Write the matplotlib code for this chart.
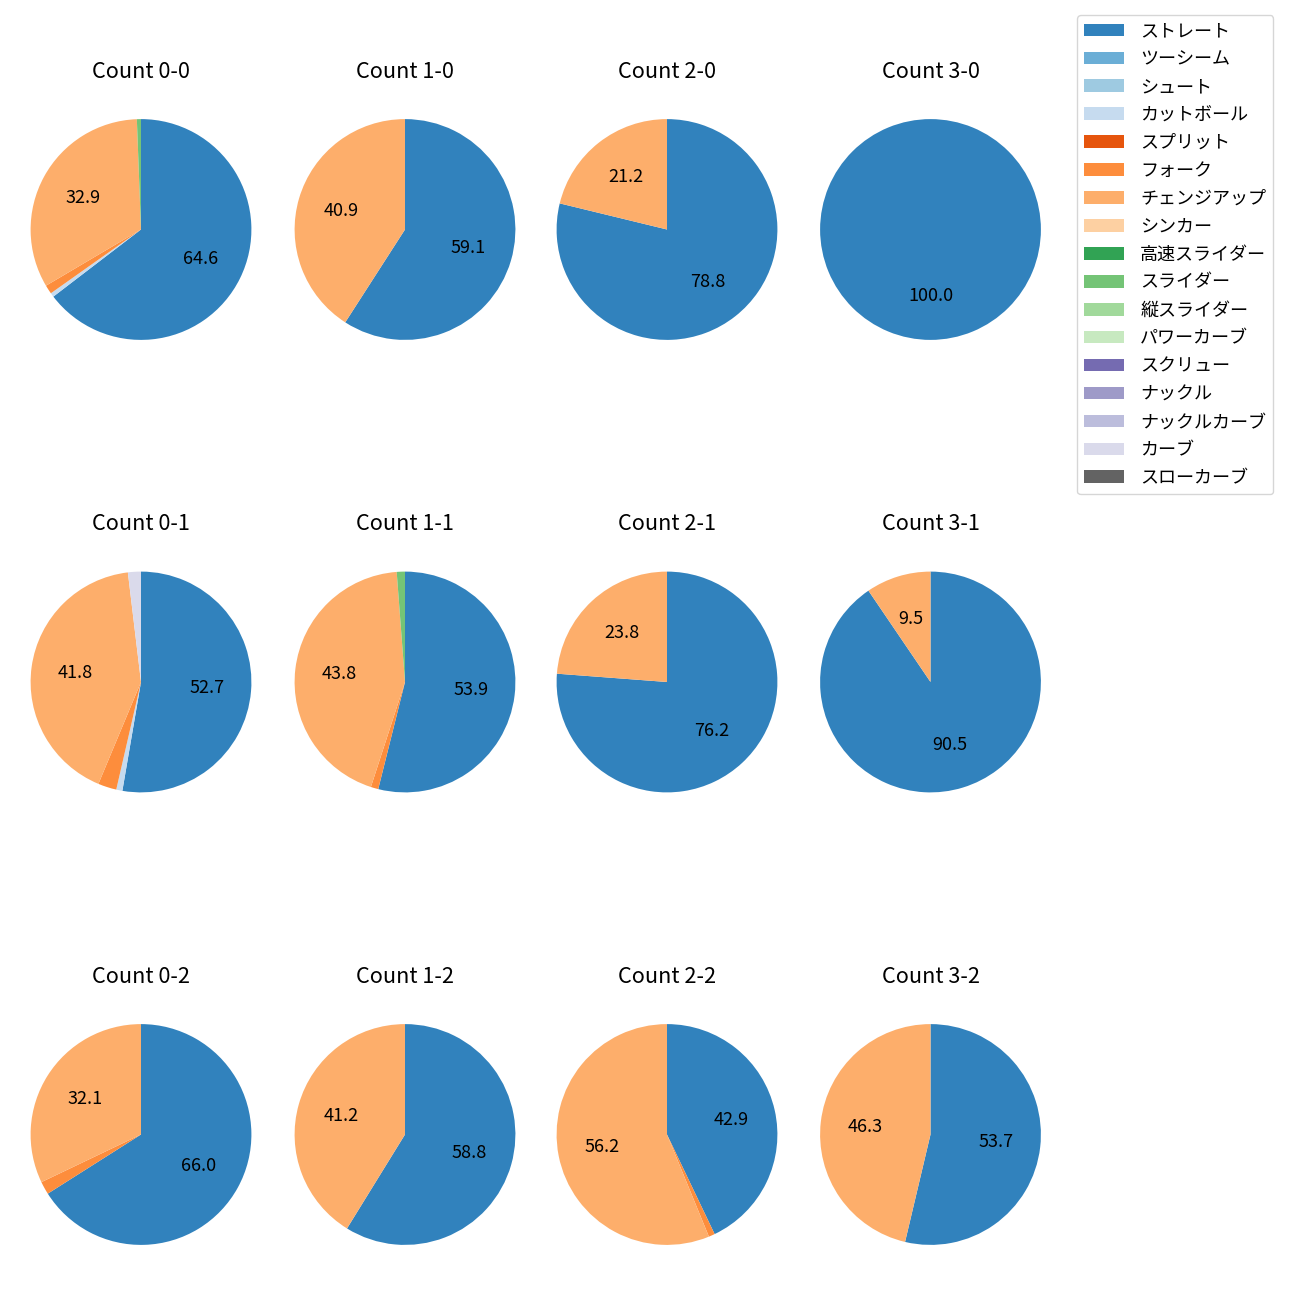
import numpy as np
import matplotlib
matplotlib.use("Agg")
import matplotlib.pyplot as plt
from matplotlib.patches import Patch

plt.rcParams['font.family'] = ['Noto Sans CJK JP', 'DejaVu Sans']
plt.rcParams['font.size'] = 13

# 球種 (tab20c の順)
pitch_types = ["ストレート", "ツーシーム", "シュート", "カットボール", "スプリット",
               "フォーク", "チェンジアップ", "シンカー", "高速スライダー", "スライダー",
               "縦スライダー", "パワーカーブ", "スクリュー", "ナックル", "ナックルカーブ",
               "カーブ", "スローカーブ"]

# 各カウントの割合 (%), pitch_types と同じ順
count_0_0 = [64.6, 0, 0, 0.6, 0, 1.3, 32.9, 0, 0, 0.6, 0, 0, 0, 0, 0, 0, 0]
count_1_0 = [59.1, 0, 0, 0, 0, 0, 40.9, 0, 0, 0, 0, 0, 0, 0, 0, 0, 0]
count_2_0 = [78.8, 0, 0, 0, 0, 0, 21.2, 0, 0, 0, 0, 0, 0, 0, 0, 0, 0]
count_3_0 = [100.0, 0, 0, 0, 0, 0, 0, 0, 0, 0, 0, 0, 0, 0, 0, 0, 0]
count_0_1 = [52.7, 0, 0, 0.9, 0, 2.7, 41.8, 0, 0, 0, 0, 0, 0, 0, 0, 1.9, 0]
count_1_1 = [53.9, 0, 0, 0, 0, 1.1, 43.8, 0, 0, 1.2, 0, 0, 0, 0, 0, 0, 0]
count_2_1 = [76.2, 0, 0, 0, 0, 0, 23.8, 0, 0, 0, 0, 0, 0, 0, 0, 0, 0]
count_3_1 = [90.5, 0, 0, 0, 0, 0, 9.5, 0, 0, 0, 0, 0, 0, 0, 0, 0, 0]
count_0_2 = [66.0, 0, 0, 0, 0, 1.9, 32.1, 0, 0, 0, 0, 0, 0, 0, 0, 0, 0]
count_1_2 = [58.8, 0, 0, 0, 0, 0, 41.2, 0, 0, 0, 0, 0, 0, 0, 0, 0, 0]
count_2_2 = [42.9, 0, 0, 0, 0, 0.9, 56.2, 0, 0, 0, 0, 0, 0, 0, 0, 0, 0]
count_3_2 = [53.7, 0, 0, 0, 0, 0, 46.3, 0, 0, 0, 0, 0, 0, 0, 0, 0, 0]

counts = [
    ["0-0", "1-0", "2-0", "3-0"],
    ["0-1", "1-1", "2-1", "3-1"],
    ["0-2", "1-2", "2-2", "3-2"],
]
data = {
    "0-0": count_0_0, "1-0": count_1_0, "2-0": count_2_0, "3-0": count_3_0,
    "0-1": count_0_1, "1-1": count_1_1, "2-1": count_2_1, "3-1": count_3_1,
    "0-2": count_0_2, "1-2": count_1_2, "2-2": count_2_2, "3-2": count_3_2,
}

colors = plt.cm.tab20c(np.arange(len(pitch_types)))


def autopct(pct):
    return f"{pct:.1f}" if pct >= 5 else ""


W = H = 1300
fig = plt.figure(figsize=(13, 13), dpi=100)

# 各円の中心 (px) と軸の一辺
col_x = [141, 405, 667, 930.5]
row_y = [229.5, 682, 1134.5]
side = 276

for r in range(3):
    for c in range(4):
        ax = fig.add_axes([(col_x[c] - side / 2) / W,
                           1 - (row_y[r] + side / 2) / H,
                           side / W, side / H])
        key = counts[r][c]
        vals = np.array(data[key], dtype=float)
        mask = vals > 0
        ax.pie(vals[mask], colors=colors[mask], startangle=90,
               counterclock=False, autopct=autopct, pctdistance=0.6)
        ax.set_title(f"Count {key}", pad=10)

handles = [Patch(facecolor=colors[i], label=pitch_types[i])
           for i in range(len(pitch_types))]
fig.legend(handles=handles, loc="upper left", fontsize=13,
           borderaxespad=0, handlelength=2.2, handletextpad=0.9,
           labelspacing=0.55,
           bbox_to_anchor=(1077 / W, 1 - 15 / H))

fig.savefig("out.png")
